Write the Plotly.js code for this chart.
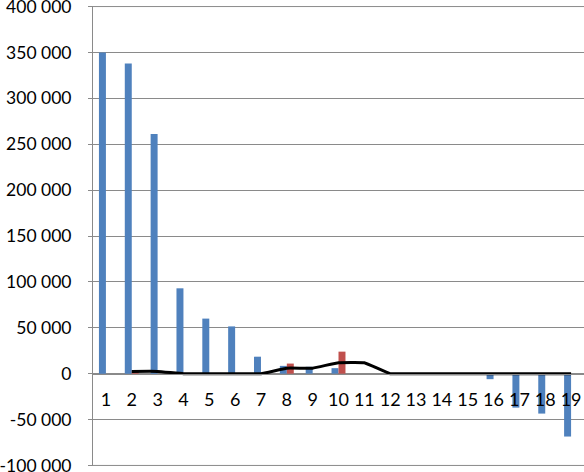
<!DOCTYPE html>
<html>
<head>
<meta charset="utf-8">
<script src="https://cdn.plot.ly/plotly-3.0.1.min.js"></script>
<style>
  html, body { margin: 0; padding: 0; background: #ffffff; }
  #chart { width: 584px; height: 472px; }
</style>
</head>
<body>
<div id="chart"></div>
<script>
const categories = ["1", "2", "3", "4", "5", "6", "7", "8", "9", "10",
  "11", "12", "13", "14", "15", "16", "17", "18", "19"];

const blueValues = [350000, 338000, 261000, 93000, 60000, 51500, 18500, 8500, 7500, 6000,
  0, 0, 0, 0, 0, -6000, -37000, -43500, -68500];

const redValues = [0, 2500, 0, 0, 0, 0, 0, 11000, 0, 24000,
  0, 0, 0, 0, 0, 0, 0, 0, 0];

const lineValues = [null, 2500, 2500, 0, 0, 0, 0, 6000, 6000, 12000,
  12000, 0, 0, 0, 0, 0, 0, 0, 0];

const yTickVals = [-100000, -50000, 0, 50000, 100000, 150000, 200000, 250000, 300000, 350000, 400000];
const yTickText = ["-100 000", "-50 000", "0", "50 000", "100 000", "150 000",
  "200 000", "250 000", "300 000", "350 000", "400 000"];

const gridColor = "#8a8a8a";
// tiny padding so the end ticks are kept
const yMin = -100600;
const yMax = 400600;

const traces = [
  {
    type: "bar",
    name: "Series 1",
    x: categories,
    y: blueValues,
    marker: { color: "#4f81bd" },
    hoverinfo: "x+y"
  },
  {
    type: "bar",
    name: "Series 2",
    x: categories,
    y: redValues,
    marker: { color: "#c0504d" },
    hoverinfo: "x+y"
  },
  {
    type: "scatter",
    mode: "lines",
    name: "Series 3",
    x: categories,
    y: lineValues,
    line: { color: "#000000", width: 3, shape: "spline", smoothing: 0.25 },
    hoverinfo: "x+y"
  }
];

// plotly drops the gridlines at the very ends, so draw those two by hand
const edgeLines = [yTickVals[0], yTickVals[yTickVals.length - 1]].map((v) => ({
  type: "line",
  xref: "paper",
  yref: "y",
  x0: 0,
  x1: 1,
  y0: v,
  y1: v,
  layer: "below",
  line: { color: gridColor, width: 1 }
}));

const layout = {
  width: 584,
  height: 472,
  margin: { l: 93, r: 0, t: 6, b: 6 },
  paper_bgcolor: "#ffffff",
  plot_bgcolor: "#ffffff",
  showlegend: false,
  barmode: "group",
  bargap: 0.46,
  bargroupgap: 0,
  font: { family: "Lato, 'Open Sans', sans-serif", size: 18, color: "#000000" },
  shapes: edgeLines,
  xaxis: {
    type: "category",
    range: [-0.5, 18.5],
    anchor: "free",
    position: (0 - yMin) / (yMax - yMin),
    showline: true,
    linecolor: gridColor,
    linewidth: 1,
    showgrid: false,
    ticks: "",
    ticklabelstandoff: 10,
    tickfont: { size: 18 }
  },
  yaxis: {
    range: [yMin, yMax],
    tickvals: yTickVals,
    ticktext: yTickText,
    ticklabeloverflow: "allow",
    showline: true,
    linecolor: gridColor,
    linewidth: 1,
    showgrid: true,
    gridcolor: gridColor,
    gridwidth: 1,
    zeroline: false,
    ticks: "outside",
    ticklen: 4,
    tickcolor: gridColor,
    ticklabelstandoff: 13,
    tickfont: { size: 17.5 }
  }
};

Plotly.newPlot("chart", traces, layout, { displayModeBar: false, staticPlot: true });
</script>
</body>
</html>
